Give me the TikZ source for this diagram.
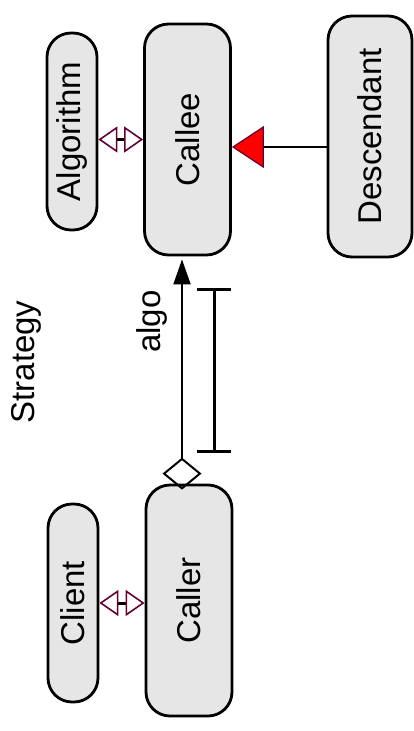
\documentclass[tikz,border=0pt]{standalone}
\usepackage{fontspec}
\setmainfont{Liberation Sans}
\usetikzlibrary{arrows.meta}

\definecolor{grisClase}{RGB}{230,230,230}
\definecolor{vinculo}{RGB}{102,0,51}

\begin{document}
\begin{tikzpicture}[x=1pt, y=-1pt,
  clase/.style={draw, line width=2.8pt, fill=grisClase, rounded corners=24pt,
    rotate=90, font=\fontsize{33}{40}\selectfont},
  enlace/.style={line width=3pt,
    {Triangle[open, length=19pt, width=26pt, line width=1.6pt, color=vinculo]}-{Triangle[open, length=19pt, width=26pt, line width=1.6pt, color=vinculo]}},
  herencia/.style={line width=2.5pt,
    -{Triangle[length=32pt, width=42pt, line width=1.2pt, color=vinculo, fill=red]}},
  agregacion/.style={line width=2pt,
    {Diamond[open, length=32pt, width=39pt]}-{Triangle[length=25pt, width=17pt]}},
  rango/.style={line width=3pt, {Bar[width=34pt]}-{Bar[width=34pt]}}]
  \useasboundingbox (0,0) rectangle (414,731);

  % Titulo
  \node[rotate=90, font=\fontsize{33}{40}\selectfont] (titulo) at (26,362) {Strategy};

  % Clases
  \node[clase, minimum width=231pt, minimum height=86pt] (Callee) at (187.5,139.5) {Callee};
  \node[clase, minimum width=197pt, minimum height=50pt] (Algorithm) at (72,131.5) {Algorithm};
  \node[clase, minimum width=241pt, minimum height=84pt] (Descendant) at (370,136.5) {Descendant};
  \node[clase, minimum width=231pt, minimum height=86pt] (Caller) at (189,600.5) {Caller};
  \node[clase, minimum width=198pt, minimum height=50pt] (Client) at (73,603) {Client};

  % Enlaces
  \draw[enlace] (Callee.north -| Algorithm.south) -- (Callee.north);
  \draw[enlace] (Client.south) -- (Client.south -| Caller.north);

  % Herencia
  \coordinate (hereda) at ([yshift=-10.5pt]Descendant.north);
  \draw[herencia] (hereda) -- (hereda -| Callee.south);

  % Agregacion con su rol
  \coordinate (pie) at ([xshift=-7pt, yshift=-6pt]Caller.east);
  \draw[agregacion, shorten >=3pt] (pie) -- (pie |- Callee.west)
    node[pos=0.72, sloped, above=14pt, inner sep=0pt, font=\fontsize{33}{40}\selectfont] (rol) {algo};

  % Rango
  \coordinate (rangoPie) at ([xshift=32pt, yshift=37pt]pie);
  \coordinate (rangoTope) at ([yshift=165pt]rangoPie);
  \draw[rango] (rangoPie) -- (rangoTope);
\end{tikzpicture}
\end{document}
